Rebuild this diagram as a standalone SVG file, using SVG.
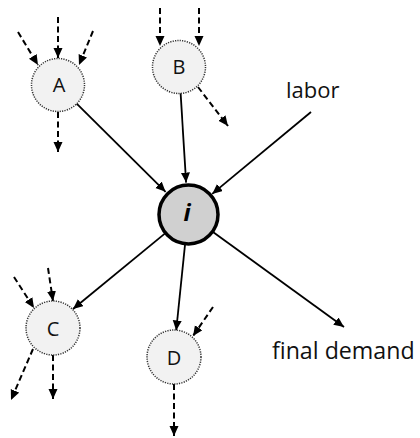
<svg xmlns="http://www.w3.org/2000/svg" width="420" height="438" viewBox="0 0 420 438">
  <defs>
    <marker id="head" markerUnits="userSpaceOnUse" markerWidth="11" markerHeight="10" refX="10" refY="4.5" orient="auto">
      <path d="M0,0 L10,4.5 L0,9 z" fill="#000"/>
    </marker>
    <style>
      .sector circle { fill: #f2f2f2; stroke: #333; stroke-width: 1.5; stroke-dasharray: 1.2 1.2; }
      .hub circle { fill: #d0d0d0; stroke: #000; stroke-width: 3.5; }
      .lbl { font-family: "Open Sans", "Liberation Sans", sans-serif; font-size: 20px; fill: #111; text-anchor: middle; }
      .ext { font-family: "Open Sans", "Liberation Sans", sans-serif; font-size: 22px; fill: #111; }
      .flow { stroke: #000; stroke-width: 1.8; fill: none; marker-end: url(#head); }
      .side { stroke: #000; stroke-width: 2; fill: none; stroke-dasharray: 6 3.5; marker-end: url(#head); }
    </style>
  </defs>
  <rect width="420" height="438" fill="#fff"/>

  <g id="connectors">
    <!-- main flows through sector i -->
    <line class="flow" x1="76.4" y1="103.3" x2="165.6" y2="191.8"/>
    <line class="flow" x1="180.6" y1="93" x2="186.1" y2="182.6"/>
    <line class="flow" x1="311" y1="112" x2="212.2" y2="193.9"/>
    <line class="flow" x1="165.1" y1="233.4" x2="73" y2="309"/>
    <line class="flow" x1="185.1" y1="243.9" x2="176.2" y2="330.5"/>
    <line class="flow" x1="212.3" y1="231.6" x2="344" y2="327"/>
    <!-- other flows of A -->
    <line class="side" x1="18" y1="32" x2="38" y2="65"/>
    <line class="side" x1="58" y1="17" x2="58" y2="58"/>
    <line class="side" x1="93" y1="31" x2="79" y2="65"/>
    <line class="side" x1="58" y1="112" x2="58" y2="152"/>
    <!-- other flows of B -->
    <line class="side" x1="160" y1="8" x2="160" y2="46"/>
    <line class="side" x1="199" y1="8" x2="199" y2="46"/>
    <line class="side" x1="198" y1="87" x2="228" y2="126"/>
    <!-- other flows of C -->
    <line class="side" x1="14" y1="277" x2="34" y2="308"/>
    <line class="side" x1="48" y1="268" x2="53" y2="301"/>
    <line class="side" x1="33" y1="349" x2="11" y2="400"/>
    <line class="side" x1="53" y1="355" x2="53" y2="399"/>
    <!-- other flows of D -->
    <line class="side" x1="213" y1="307" x2="193" y2="336"/>
    <line class="side" x1="174" y1="384" x2="174" y2="436"/>
  </g>

  <g id="node-A" class="sector">
    <circle cx="58" cy="85" r="26.5"/>
    <text class="lbl" x="59" y="92">A</text>
  </g>
  <g id="node-B" class="sector">
    <circle cx="179" cy="67" r="26.5"/>
    <text class="lbl" x="179" y="74">B</text>
  </g>
  <g id="node-i" class="hub">
    <circle cx="188.5" cy="214.5" r="29.5"/>
    <text x="187" y="221" style="font-family:'Open Sans','Liberation Sans',sans-serif;font-size:24px;font-weight:bold;font-style:italic;text-anchor:middle;fill:#000">i</text>
  </g>
  <g id="node-C" class="sector">
    <circle cx="53" cy="328" r="27"/>
    <text class="lbl" x="53" y="336">C</text>
  </g>
  <g id="node-D" class="sector">
    <circle cx="174" cy="357" r="27"/>
    <text class="lbl" x="174" y="365">D</text>
  </g>
  <g id="label-labor">
    <text class="ext" x="286" y="98">labor</text>
  </g>
  <g id="label-final-demand">
    <text class="ext" x="272" y="359" style="font-size:23.2px">final demand</text>
  </g>
</svg>
